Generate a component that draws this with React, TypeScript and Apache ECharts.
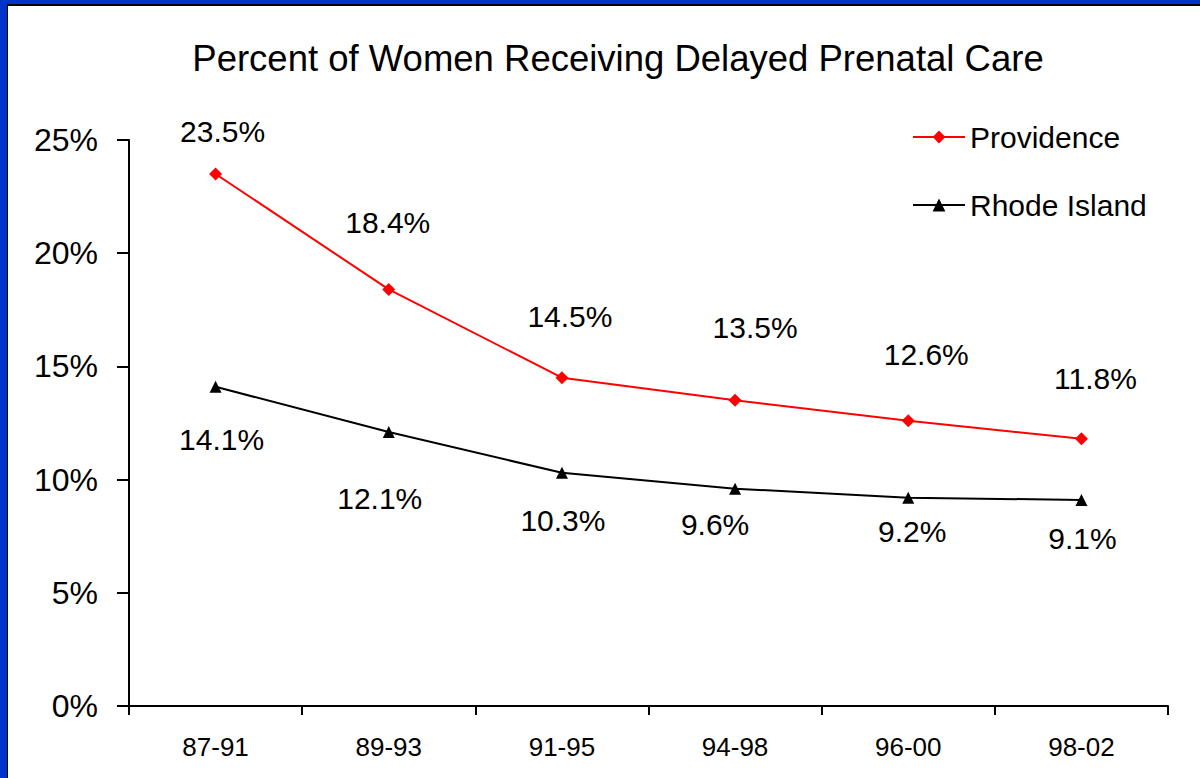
import React, { useEffect, useRef } from "react";
import * as echarts from "echarts";

const categories = ["87-91", "89-93", "91-95", "94-98", "96-00", "98-02"];
const providence = [23.5, 18.4, 14.5, 13.5, 12.6, 11.8];
const rhodeIsland = [14.1, 12.1, 10.3, 9.6, 9.2, 9.1];
const yTicks = { min: 0, max: 25, interval: 5 };

// label placement (styling, not data)
const provLabelOffsets = [[7, -42], [-1, -67], [8, -61], [20, -73], [18, -66], [14, -60]];
const riLabelOffsets = [[6, 53], [-9, 66], [1, 48], [-20, 36], [4, 34], [1, 39]];

const FONT = "'Liberation Sans', Arial, sans-serif";

export default function App() {
  const ref = useRef<HTMLDivElement>(null);
  useEffect(() => {
    if (!ref.current) return;
    const chart = echarts.init(ref.current, null, { renderer: "svg" });
    const mk = (vals: number[], offs: number[][]) =>
      vals.map((v, i) => ({
        value: v,
        label: { offset: offs[i] },
      }));
    chart.setOption({
      animation: false,
      backgroundColor: "transparent",
      textStyle: { fontFamily: FONT },
      title: {
        text: "Percent of Women Receiving Delayed Prenatal Care",
        left: 613,
        textAlign: "center",
        top: 35,
        textStyle: { fontFamily: FONT, fontSize: 36.5, fontWeight: "normal", color: "#000" },
      },
      legend: {
        orient: "vertical",
        left: 907,
        top: 115,
        itemWidth: 52,
        itemHeight: 16,
        itemGap: 34,
        textStyle: { fontFamily: FONT, fontSize: 30, color: "#000", lineHeight: 34 },
        data: ["Providence", "Rhode Island"],
      },
      grid: { left: 129, right: 32, top: 140, bottom: 72, containLabel: false },
      xAxis: {
        type: "category",
        data: categories,
        boundaryGap: true,
        axisLine: { lineStyle: { color: "#000", width: 2 } },
        axisTick: { show: true, length: 9, lineStyle: { color: "#000", width: 2 }, alignWithLabel: false },
        axisLabel: { fontFamily: FONT, fontSize: 26, color: "#000", margin: 28 },
      },
      yAxis: {
        type: "value",
        min: yTicks.min,
        max: yTicks.max,
        interval: yTicks.interval,
        axisLine: { show: true, lineStyle: { color: "#000", width: 2 } },
        axisTick: { show: true, length: 12, lineStyle: { color: "#000", width: 2 } },
        splitLine: { show: false },
        axisLabel: { fontFamily: FONT, fontSize: 32, color: "#000", margin: 31, formatter: "{value}%" },
      },
      series: [
        {
          name: "Providence",
          type: "line",
          data: mk(providence, provLabelOffsets),
          symbol: "diamond",
          symbolSize: 13,
          itemStyle: { color: "#FF0000" },
          lineStyle: { color: "#FF0000", width: 2 },
          label: {
            show: true,
            position: "inside",
            formatter: (p: any) => p.value.toFixed(1) + "%",
            fontFamily: FONT,
            fontSize: 30,
            color: "#000",
          },
        },
        {
          name: "Rhode Island",
          type: "line",
          data: mk(rhodeIsland, riLabelOffsets),
          symbol: "triangle",
          symbolSize: 12,
          itemStyle: { color: "#000" },
          lineStyle: { color: "#000", width: 2 },
          label: {
            show: true,
            position: "inside",
            formatter: (p: any) => p.value.toFixed(1) + "%",
            fontFamily: FONT,
            fontSize: 30,
            color: "#000",
          },
        },
      ],
    });
    return () => chart.dispose();
  }, []);
  return (
    <div style={{ position: "absolute", left: 0, top: 0, width: 1200, height: 778, background: "#0033CC", overflow: "hidden" }}>
      <div
        style={{
          position: "absolute",
          left: 7,
          top: 4,
          width: 1193,
          height: 774,
          background: "#fff",
          borderLeft: "1px solid #000",
          borderTop: "2px solid #000",
          boxSizing: "border-box",
        }}
      />
      <div ref={ref} style={{ position: "absolute", left: 0, top: 0, width: 1200, height: 778 }} />
    </div>
  );
}
